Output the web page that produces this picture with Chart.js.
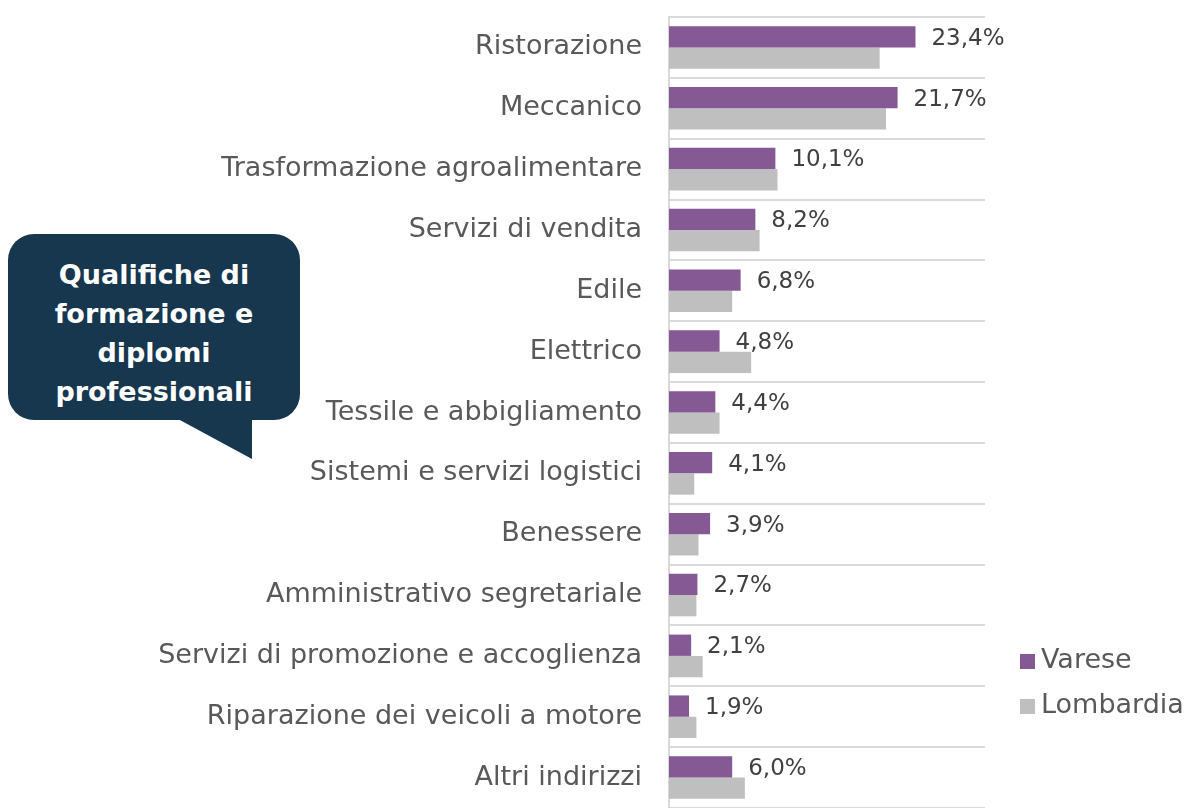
<!DOCTYPE html>
<html lang="it">
<head>
  <meta charset="UTF-8">
  <title>Qualifiche di formazione e diplomi professionali</title>
  <script src="https://cdn.jsdelivr.net/npm/chart.js"></script>
  <style>
    body { margin: 0; background: #ffffff; }
    .wrap { position: relative; width: 1191px; height: 808px; overflow: hidden; }
    .bubble {
      position: absolute; left: 8px; top: 234px; width: 292px; height: 186px;
      box-sizing: border-box; padding-top: 12px;
      background: #17374f; border-radius: 26px;
      display: flex; align-items: center; justify-content: center; text-align: center;
      color: #ffffff; font-family: "DejaVu Sans", sans-serif;
      font-weight: bold; font-size: 27px; line-height: 39px;
    }
    .tail {
      position: absolute; left: 178px; top: 419px; width: 74px; height: 40px;
      background: #17374f; clip-path: polygon(0 0, 100% 0, 100% 100%);
    }
  </style>
</head>
<body>
  <div class="wrap">
    <canvas id="chart" width="1191" height="808"></canvas>
    <div class="tail"></div>
    <div class="bubble">Qualifiche di<br>formazione e<br>diplomi<br>professionali</div>
  </div>

  <script>
    const categories = [
      'Ristorazione', 'Meccanico', 'Trasformazione agroalimentare', 'Servizi di vendita',
      'Edile', 'Elettrico', 'Tessile e abbigliamento', 'Sistemi e servizi logistici',
      'Benessere', 'Amministrativo segretariale', 'Servizi di promozione e accoglienza',
      'Riparazione dei veicoli a motore', 'Altri indirizzi'
    ];
    const varese = [23.4, 21.7, 10.1, 8.2, 6.8, 4.8, 4.4, 4.1, 3.9, 2.7, 2.1, 1.9, 6.0];
    const lombardia = [20.0, 20.6, 10.3, 8.6, 6.0, 7.8, 4.8, 2.4, 2.8, 2.6, 3.2, 2.6, 7.2];

    const FONT = '"DejaVu Sans", sans-serif';

    // value labels on the Varese bars
    const valueLabels = {
      id: 'valueLabels',
      afterDatasetsDraw(chart) {
        const ctx = chart.ctx;
        const meta = chart.getDatasetMeta(0);
        ctx.save();
        ctx.font = '23px ' + FONT;
        ctx.fillStyle = '#404040';
        ctx.textAlign = 'left';
        ctx.textBaseline = 'middle';
        meta.data.forEach((bar, i) => {
          const txt = varese[i].toFixed(1).replace('.', ',') + '%';
          ctx.fillText(txt, bar.x + 16, bar.y + 2);
        });
        ctx.restore();
      }
    };

    // legend at the lower right
    const sideLegend = {
      id: 'sideLegend',
      afterDraw(chart) {
        const ctx = chart.ctx;
        ctx.save();
        ctx.font = '27px ' + FONT;
        ctx.textBaseline = 'middle';
        chart.data.datasets.forEach((ds, i) => {
          const y = 661 + i * 45;
          ctx.fillStyle = ds.backgroundColor;
          ctx.fillRect(1020, y - 7, 15, 15);
          ctx.fillStyle = '#595959';
          ctx.fillText(ds.label, 1041, y);
        });
        ctx.restore();
      }
    };

    new Chart(document.getElementById('chart'), {
      type: 'bar',
      data: {
        labels: categories,
        datasets: [
          { label: 'Varese', data: varese, backgroundColor: '#845994' },
          { label: 'Lombardia', data: lombardia, backgroundColor: '#bfbfbf' }
        ]
      },
      options: {
        indexAxis: 'y',
        responsive: false,
        animation: false,
        layout: { padding: { top: 17, right: 206, bottom: 0, left: 0 } },
        datasets: { bar: { categoryPercentage: 0.7, barPercentage: 1.0 } },
        plugins: { legend: { display: false }, tooltip: { enabled: false } },
        scales: {
          x: { display: false, min: 0, max: 30 },
          y: {
            afterFit(scale) {
              scale.width = 669;
              scale.paddingTop = 0;
              scale.paddingBottom = 0;
            },
            grid: {
              // bottom edge line sits off the picture in the original
              color: c => c.index >= categories.length ? 'rgba(0,0,0,0)' : '#d9d9d9',
              lineWidth: 2, drawTicks: false, offset: true
            },
            border: { color: '#d9d9d9', width: 2 },
            ticks: { color: '#595959', font: { family: FONT, size: 27 }, padding: 27 }
          }
        }
      },
      plugins: [valueLabels, sideLegend]
    });
  </script>
</body>
</html>
